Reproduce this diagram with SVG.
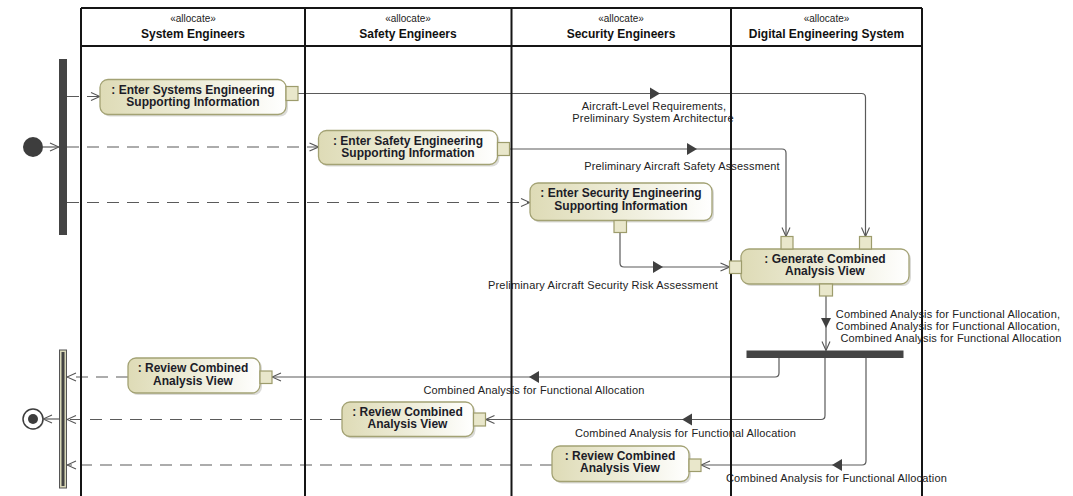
<svg xmlns="http://www.w3.org/2000/svg" width="1073" height="496" viewBox="0 0 1073 496">
  <style>
    .lane { stroke: #151515; stroke-width: 2; fill: none; }
    .stereo { font-family: "Liberation Sans", Arial, sans-serif; font-size: 10px; fill: #222; text-anchor: middle; }
    .lname { font-family: "Liberation Sans", Arial, sans-serif; font-size: 12px; font-weight: bold; fill: #111; text-anchor: middle; }
    .act { fill: url(#actFill); stroke: #a3a274; stroke-width: 1.3; }
    .shadow { fill: #bdbdb8; opacity: 0.55; }
    .pin { fill: #e9e7cb; stroke: #9d9c6c; stroke-width: 1.2; }
    .atext { font-family: "Liberation Sans", Arial, sans-serif; font-size: 12px; font-weight: bold; fill: #1c1c28; text-anchor: middle; }
    .flow { fill: none; stroke: #5a5a5a; stroke-width: 1.2; }
    .ctrl { fill: none; stroke: #5a5a5a; stroke-width: 1.2; stroke-dasharray: 12 8; }
    .dir { fill: #404040; }
    .lbl { font-family: "Liberation Sans", Arial, sans-serif; font-size: 11px; letter-spacing: 0.18px; fill: #222; text-anchor: middle; }
  </style>
  <defs>
    <linearGradient id="actFill" x1="0" y1="0" x2="1" y2="0">
      <stop offset="0" stop-color="#dedbb6"/>
      <stop offset="0.55" stop-color="#efeedc"/>
      <stop offset="1" stop-color="#ffffff"/>
    </linearGradient>
    <marker id="open" viewBox="0 0 10 10" refX="10" refY="5" markerWidth="10" markerHeight="10" markerUnits="userSpaceOnUse" orient="auto">
      <path d="M1,1 L10,5 L1,9" fill="none" stroke="#555" stroke-width="1.1"/>
    </marker>
  </defs>

  <!-- connectors and their labels -->
  <g id="connectors">
    <!-- initial node to fork -->
    <path class="flow" d="M43,147 H59" marker-end="url(#open)"/>
    <!-- fork to the three entry actions -->
    <path class="ctrl" d="M67,96.5 H100" marker-end="url(#open)"/>
    <path class="ctrl" d="M67,147 H318.5" marker-end="url(#open)"/>
    <path class="ctrl" d="M67,202.5 H530" marker-end="url(#open)"/>

    <!-- object flows into Generate Combined Analysis View -->
    <path class="flow" d="M298,93.5 H861.5 Q865.5,93.5 865.5,97.5 V236.5" marker-end="url(#open)"/>
    <polygon class="dir" points="650,87.5 660,93.5 650,99.5"/>
    <text class="lbl" x="654" y="110">Aircraft-Level Requirements,</text>
    <text class="lbl" x="653" y="121.5">Preliminary System Architecture</text>

    <path class="flow" d="M509.5,149 H782 Q786,149 786,153 V236.5" marker-end="url(#open)"/>
    <polygon class="dir" points="687,143 697,149 687,155"/>
    <text class="lbl" x="682" y="169.5">Preliminary Aircraft Safety Assessment</text>

    <path class="flow" d="M620,232.5 V263 Q620,267 624,267 H729.5" marker-end="url(#open)"/>
    <polygon class="dir" points="653,261 663,267 653,273"/>
    <text class="lbl" x="603" y="288.5">Preliminary Aircraft Security Risk Assessment</text>

    <!-- output of Generate to the second fork -->
    <path class="flow" d="M826,296 V350.5" marker-end="url(#open)"/>
    <polygon class="dir" points="821,318 831,318 826,328"/>
    <text class="lbl" x="948" y="318">Combined Analysis for Functional Allocation,</text>
    <text class="lbl" x="948" y="330">Combined Analysis for Functional Allocation,</text>
    <text class="lbl" x="951" y="342">Combined Analysis for Functional Allocation</text>

    <!-- fork to the three review actions -->
    <path class="flow" d="M779,358 V373 Q779,377 775,377 H272" marker-end="url(#open)"/>
    <polygon class="dir" points="539,371 529,377 539,383"/>
    <text class="lbl" x="534" y="393.5">Combined Analysis for Functional Allocation</text>

    <path class="flow" d="M825,358 V415.5 Q825,419.5 821,419.5 H485.5" marker-end="url(#open)"/>
    <polygon class="dir" points="692,413.5 682,419.5 692,425.5"/>
    <text class="lbl" x="685.5" y="436.5">Combined Analysis for Functional Allocation</text>

    <path class="flow" d="M866,358 V461 Q866,465 862,465 H701" marker-end="url(#open)"/>
    <polygon class="dir" points="842,459 832,465 842,471"/>
    <text class="lbl" x="836.5" y="481.5">Combined Analysis for Functional Allocation</text>

    <!-- review actions to join -->
    <path class="ctrl" d="M128,377 H67" marker-end="url(#open)"/>
    <path class="ctrl" d="M342,419.5 H67" marker-end="url(#open)"/>
    <path class="ctrl" d="M552,465 H67" marker-end="url(#open)"/>
    <!-- join to final node -->
    <path class="flow" d="M59,419 H43" marker-end="url(#open)"/>
  </g>

  <!-- swimlane partitions -->
  <g id="partitions">
    <path class="lane" d="M81,8 H922 M81,46 H922 M81,8 V496 M305,8 V496 M511.5,8 V496 M731,8 V496 M922,8 V496"/>
    <text class="stereo" x="193" y="22">«allocate»</text>
    <text class="lname" x="193" y="38">System Engineers</text>
    <text class="stereo" x="408" y="22">«allocate»</text>
    <text class="lname" x="408" y="38">Safety Engineers</text>
    <text class="stereo" x="621" y="22">«allocate»</text>
    <text class="lname" x="621" y="38">Security Engineers</text>
    <text class="stereo" x="826.5" y="22">«allocate»</text>
    <text class="lname" x="826.5" y="38">Digital Engineering System</text>
  </g>

  <!-- control nodes -->
  <g id="initial">
    <circle cx="33" cy="147" r="10" fill="#3d3d3d"/>
  </g>
  <g id="fork1">
    <rect x="59" y="59" width="8" height="176" fill="#444"/>
  </g>
  <g id="fork2">
    <rect x="746.5" y="350.5" width="157" height="7.5" fill="#444"/>
  </g>
  <g id="join">
    <rect x="59.5" y="350" width="7" height="138" fill="#d9d8b8" stroke="#555" stroke-width="1"/>
    <rect x="61.5" y="352" width="3" height="134" fill="#444"/>
  </g>
  <g id="final">
    <circle cx="34" cy="420" r="10" fill="#c8c8c8" opacity="0.6"/>
    <circle cx="33" cy="419" r="10" fill="#fff" stroke="#3d3d3d" stroke-width="1.5"/>
    <circle cx="33" cy="419" r="5" fill="#3d3d3d"/>
  </g>

  <!-- actions -->
  <g id="enterSystems">
    <rect class="shadow" x="102" y="81.5" width="186" height="35" rx="8"/>
    <rect class="act" x="100" y="79.5" width="186" height="35" rx="8"/>
    <rect class="pin" x="286" y="86.5" width="12" height="14"/>
    <text class="atext" x="193" y="93.5">: Enter Systems Engineering</text>
    <text class="atext" x="193" y="105.5">Supporting Information</text>
  </g>
  <g id="enterSafety">
    <rect class="shadow" x="320.5" y="132.5" width="179" height="34" rx="8"/>
    <rect class="act" x="318.5" y="130.5" width="179" height="34" rx="8"/>
    <rect class="pin" x="497.5" y="142.5" width="12" height="13"/>
    <text class="atext" x="408" y="144.5">: Enter Safety Engineering</text>
    <text class="atext" x="408" y="156.5">Supporting Information</text>
  </g>
  <g id="enterSecurity">
    <rect class="shadow" x="532" y="185" width="182" height="37.5" rx="8"/>
    <rect class="act" x="530" y="183" width="182" height="37.5" rx="8"/>
    <rect class="pin" x="614" y="220.5" width="12.5" height="12"/>
    <text class="atext" x="621" y="197">: Enter Security Engineering</text>
    <text class="atext" x="621" y="209.5">Supporting Information</text>
  </g>
  <g id="generateView">
    <rect class="shadow" x="743" y="251" width="168" height="35" rx="8"/>
    <rect class="act" x="741" y="249" width="168" height="35" rx="8"/>
    <rect class="pin" x="781" y="236.5" width="12" height="12.5"/>
    <rect class="pin" x="859.5" y="236.5" width="12" height="12.5"/>
    <rect class="pin" x="729.5" y="261" width="12" height="12.5"/>
    <rect class="pin" x="819.5" y="284" width="13" height="12"/>
    <text class="atext" x="825" y="262.5">: Generate Combined</text>
    <text class="atext" x="825" y="275">Analysis View</text>
  </g>
  <g id="reviewSystems">
    <rect class="shadow" x="130" y="360" width="132" height="35" rx="8"/>
    <rect class="act" x="128" y="358" width="132" height="35" rx="8"/>
    <rect class="pin" x="260" y="371" width="12" height="12.5"/>
    <text class="atext" x="193" y="372">: Review Combined</text>
    <text class="atext" x="193" y="384.5">Analysis View</text>
  </g>
  <g id="reviewSafety">
    <rect class="shadow" x="344" y="404" width="131.5" height="34.5" rx="8"/>
    <rect class="act" x="342" y="402" width="131.5" height="34.5" rx="8"/>
    <rect class="pin" x="473.5" y="413" width="12" height="13"/>
    <text class="atext" x="407.5" y="415.5">: Review Combined</text>
    <text class="atext" x="407.5" y="428">Analysis View</text>
  </g>
  <g id="reviewSecurity">
    <rect class="shadow" x="554" y="448" width="137" height="35.5" rx="8"/>
    <rect class="act" x="552" y="446" width="137" height="35.5" rx="8"/>
    <rect class="pin" x="689" y="459" width="12" height="12.5"/>
    <text class="atext" x="620" y="459.5">: Review Combined</text>
    <text class="atext" x="620" y="471.5">Analysis View</text>
  </g>
</svg>
